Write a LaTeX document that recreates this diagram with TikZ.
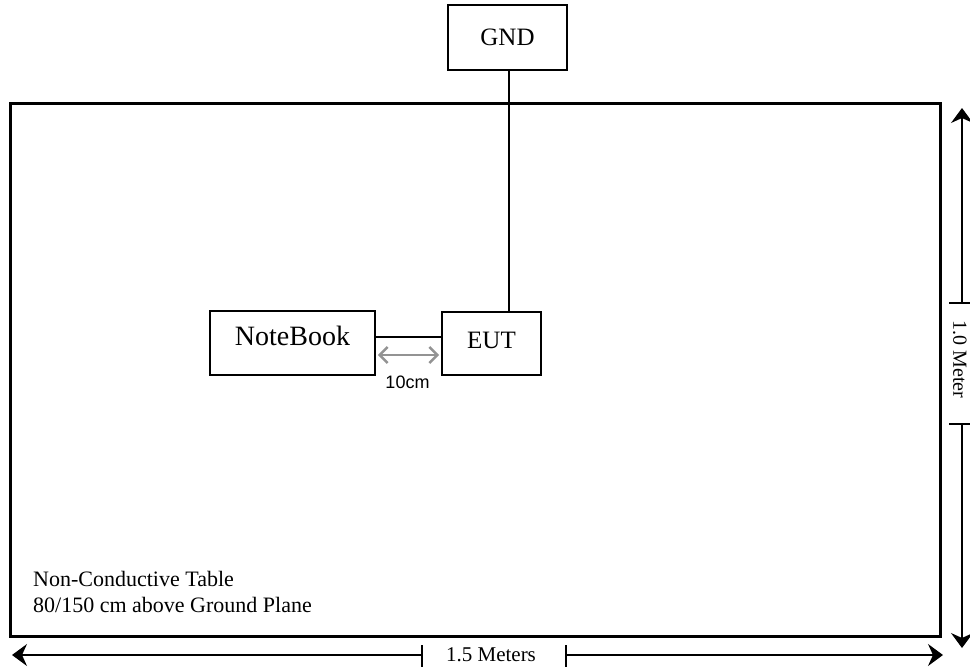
\documentclass[tikz,border=0pt]{standalone}
\usepackage{fontspec}
\setmainfont{Liberation Serif}
\newfontfamily\dimsans{Liberation Sans}
\usetikzlibrary{arrows.meta,calc}

\begin{document}
\begin{tikzpicture}[x=1pt,y=-1pt,
  unitbox/.style={draw,line width=1.6pt,inner sep=0pt},
  dimtip/.style={line width=1.3pt},
  >={Stealth[length=15pt,width=22pt,inset=5pt]}]
  \useasboundingbox (0,0) rectangle (970,667);

  % table top
  \draw[line width=3pt] (10,103) rectangle (940,636);
  \node[anchor=base west,font=\fontsize{22}{26}\selectfont,inner sep=0pt] (tbltxt)
    at (33,586) {Non-Conductive Table};
  \node[anchor=base west,font=\fontsize{22}{26}\selectfont,inner sep=0pt] (tblhgt)
    at (33,612) {80/150 cm above Ground Plane};

  \node[unitbox,minimum width=119pt,minimum height=65pt,
    font=\fontsize{25}{30}\selectfont] (gnd) at (507.5,37.5) {GND};
  \node[unitbox,minimum width=99pt,minimum height=63pt,
    font=\fontsize{25}{30}\selectfont,text depth=6pt] (eut) at (491.5,343.5) {EUT};
  \node[unitbox,minimum width=165pt,minimum height=64pt,
    font=\fontsize{28}{32}\selectfont,text depth=14pt] (nb) at (292.5,343) {NoteBook};

  \draw[line width=1.8pt] ([xshift=1.5pt]gnd.south) -- ([xshift=1.5pt]gnd.south |- eut.north);
  \draw[line width=1.8pt] ([yshift=6pt]nb.east) -- ([yshift=6pt]nb.east -| eut.west);
  \draw[gray!85,line width=2.6pt,{Straight Barb[length=8pt,width=16pt]}-{Straight Barb[length=8pt,width=16pt]}]
    ([xshift=2pt,yshift=-12pt]nb.east) -- coordinate (gap) ([xshift=-2pt,yshift=-12pt]nb.east -| eut.west);
  \node[font=\dimsans\fontsize{18}{20}\selectfont] (gaplbl) at ($(gap)+(-1,27)$) {10cm};

  % 1.0 Meter
  \coordinate (vtop) at (962,108);
  \coordinate (vbot) at (962,648);
  \coordinate (vcut1) at (962,303);
  \coordinate (vcut2) at (962,424);
  \node[rotate=-90,inner sep=0pt,font=\fontsize{20}{24}\selectfont] (vlbl) at ($(vcut1)!0.5!(vcut2)+(-2,-4)$) {1.0 Meter};
  \draw[dimtip,<-] (vtop) -- (vcut1);
  \draw[dimtip,->] (vcut2) -- (vbot);
  \draw[dimtip] ($(vcut1)+(-13,0)$) -- ($(vcut1)+(8,0)$);
  \draw[dimtip] ($(vcut2)+(-13,0)$) -- ($(vcut2)+(8,0)$);

  % 1.5 Meters
  \coordinate (hleft) at (12,655);
  \coordinate (hright) at (943,655);
  \coordinate (hcut1) at (422,655);
  \coordinate (hcut2) at (566,655);
  \node[font=\fontsize{21}{24}\selectfont] (hlbl) at ($(hcut1)!0.5!(hcut2)+(-3,0)$) {1.5 Meters};
  \draw[dimtip,<-] (hleft) -- (hcut1);
  \draw[dimtip,->] (hcut2) -- (hright);
  \draw[dimtip] ($(hcut1)+(0,-10)$) -- ($(hcut1)+(0,12)$);
  \draw[dimtip] ($(hcut2)+(0,-10)$) -- ($(hcut2)+(0,12)$);
\end{tikzpicture}
\end{document}
